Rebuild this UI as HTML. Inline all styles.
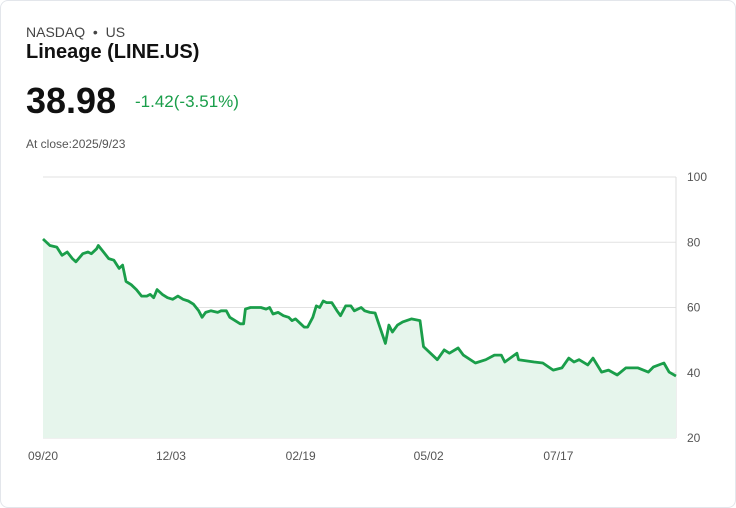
<!DOCTYPE html>
<html><head><meta charset="utf-8"><style>
body{margin:0;background:#fff;font-family:"Liberation Sans",sans-serif;}
.card{position:absolute;left:0;top:0;width:734px;height:506px;border:1px solid #e3e6eb;border-radius:8px;background:#fff;}
.t{position:absolute;white-space:nowrap;}
</style></head><body>
<div class="card">
<div class="t" style="left:25px;top:23px;font-size:14px;color:#444">NASDAQ &nbsp;•&nbsp; US</div>
<div class="t" style="left:25px;top:40px;font-size:20px;font-weight:bold;color:#111">Lineage (LINE.US)</div>
<div class="t" style="left:25px;top:79px;font-size:36px;font-weight:bold;color:#111">38.98</div>
<div class="t" style="left:134px;top:91px;font-size:17px;color:#1a9e4a">-1.42(-3.51%)</div>
<div class="t" style="left:25px;top:136px;font-size:12px;color:#555">At close:2025/9/23</div>
<svg id="chart" width="736" height="508" style="position:absolute;left:-1px;top:-1px"></svg>
</div>
<script>
const days=[0,4,8,11,14,17,19,23,26,28,31,32,35,38,41,44,46,48,51,54,57,60,62,64,66,69,72,75,78,81,84,87,90,92,94,97,101,103,106,108,111,114,116,117,120,123,126,129,131,133,136,139,142,144,146,149,151,153,156,158,160,162,164,167,170,172,175,178,180,184,186,189,192,198,200,202,205,208,213,218,220,228,232,235,240,243,250,256,261,265,267,274,275,284,289,295,300,304,307,310,315,318,323,327,332,337,344,350,353,359,362,366];
const prices=[81,79,78.5,76,77,75,74,76.5,77,76.5,78,79,77,75,74.5,72,73,68,67,65.5,63.5,63.5,64,63,65.5,64,63,62.5,63.5,62.5,62,61,59,57,58.5,59,58.5,59,59,57,56,55,55,59.5,60,60,60,59.5,60,58,58.5,57.5,57,56,56.5,55,54,54,57,60.5,60,62,61.5,61.5,59,57.5,60.5,60.5,59,60,59,58.5,58.3,49,54.6,52.5,54.6,55.6,56.5,56,48,44,47,46,47.6,45.4,43,44,45.4,45.4,43.3,46,44,43.3,43,40.8,41.5,44.5,43.3,44,42.4,44.5,40.2,40.8,39.3,41.5,41.5,40.2,41.8,43,40.2,38.98];
const yTicks=[20,40,60,80,100];
const xTickDays=[0,74,149,223,298];
const xTickLabels=["09/20","12/03","02/19","05/02","07/17"];
const X0=43,X1=676,Y0=438,Y1=177,D1=366;
const sx=d=>X0+(X1-X0)*d/D1, sy=v=>Y0-(Y0-Y1)*(v-20)/80;
const svg=document.getElementById('chart');const NS='http://www.w3.org/2000/svg';
function mk(t,a){const e=document.createElementNS(NS,t);for(const k in a)e.setAttribute(k,a[k]);svg.appendChild(e);return e;}
yTicks.forEach(v=>{
 const l=mk('line',{x1:X0,x2:X1,y1:sy(v),y2:sy(v),stroke:'#e2e2e2','stroke-width':1});
 
 
 const t=mk('text',{x:687,y:sy(v)+4,'font-size':12,fill:'#555','font-family':'Liberation Sans, sans-serif'});t.textContent=v;
 
 
});
const ax=mk('line',{x1:X1,x2:X1,y1:Y1,y2:Y0,stroke:'#ddd'});


xTickDays.forEach((d,i)=>{
 const t=mk('text',{x:sx(d),y:460,'font-size':12,fill:'#555','text-anchor':'middle','font-family':'Liberation Sans, sans-serif'});t.textContent=xTickLabels[i];
 
 
});
let p=days.map((d,i)=>(i?'L':'M')+sx(d).toFixed(1)+','+sy(prices[i]).toFixed(1)).join('');
const area=mk('path',{d:p+`L${sx(days[days.length-1])},${Y0}L${sx(0)},${Y0}Z`,fill:'#e6f5ec'});


const line=mk('path',{d:p,fill:'none',stroke:'#1a9e4a','stroke-width':2.8,'stroke-linejoin':'round'});


</script>
</body></html>
